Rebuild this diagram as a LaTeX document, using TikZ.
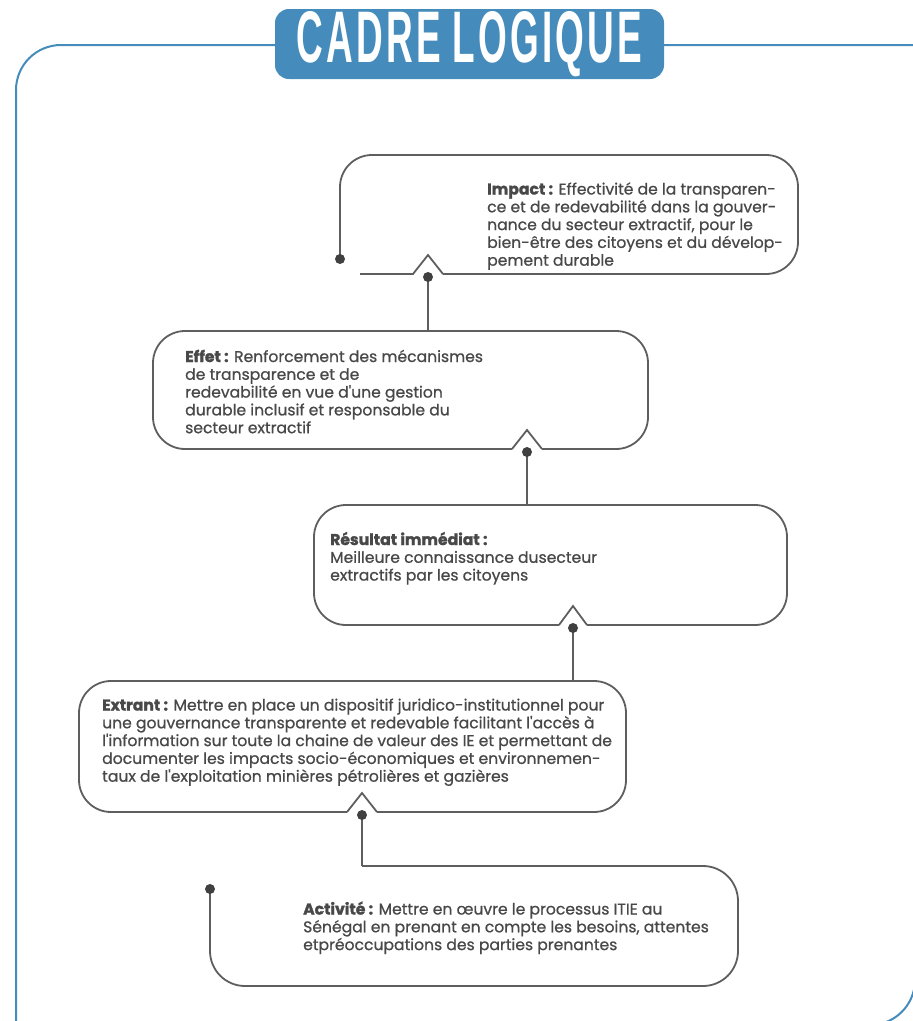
\documentclass[tikz,border=0pt]{standalone}
\usepackage{fontspec}
\usepackage{graphicx}
\newfontfamily\pop{Poppins}[UprightFeatures={FakeBold=0.8}, BoldFeatures={FakeBold=1.6}]
\newfontfamily\ttl{Liberation Sans}[LetterSpace=9]
\definecolor{frameblue}{HTML}{458CBC}
\definecolor{linegray}{HTML}{5E5E5E}
\definecolor{dotgray}{HTML}{404040}
\definecolor{textgray}{HTML}{484848}
\tikzset{
  frame/.style={draw=frameblue, line width=2pt},
  titlebox/.style={fill=frameblue, rounded corners=14pt, minimum width=389pt, minimum height=70pt, inner sep=0pt, text=white},
  box/.style={draw=linegray, line width=1.8pt, rounded corners=32pt},
  notch/.style={draw=linegray, line width=1.8pt, line join=miter},
  conn/.style={draw=linegray, line width=1.8pt},
  dot/.style={fill=dotgray},
  txt/.style={anchor=base west, align=left, inner sep=0pt, text=textgray, font=\pop\fontsize{15.6}{17.8}\selectfont}
}
\begin{document}
\begin{tikzpicture}[x=1pt,y=-1pt]
\useasboundingbox (0,0) rectangle (913,1021);
\clip (0,0) rectangle (913,1021);
% outer frame
\draw[frame, rounded corners=45pt] (930,45) -- (16,45) -- (16,1045);
\draw[frame, rounded corners=45pt] (780,1025) -- (915,1025) -- (915,900);
% title
\node[titlebox] (title) at (469.5,44) {\resizebox{346pt}{51pt}{\ttl\bfseries\spaceskip=0.3em CADRE LOGIQUE}};
% coordinates
\coordinate (impL) at (340,259);
\coordinate (impD) at (428,277);
\coordinate (effT) at (428,331);
\coordinate (effD) at (527,452);
\coordinate (resT) at (527,505);
\coordinate (resD) at (573,628);
\coordinate (extT) at (573,681);
\coordinate (extD) at (362,815);
\coordinate (actT) at (362,866);
\coordinate (actL) at (210,889);
% Impact box
\draw[box] (impL) -- (340,155) -- (798,155) -- (798,274) -- (443,274);
\draw[notch] (443,274) -- (428,255) -- (413,274) -- (360,274);
% Effet box
\draw[box] (512,449) -- (153,449) -- (153,331) -- (648,331) -- (648,449) -- (542,449);
\draw[notch] (512,449) -- (527,430) -- (542,449);
% Resultat box
\draw[box] (559,625) -- (314,625) -- (314,505) -- (787,505) -- (787,625) -- (587,625);
\draw[notch] (559,625) -- (573,606) -- (587,625);
% Extrant box
\draw[box] (347,812) -- (79,812) -- (79,681) -- (626,681) -- (626,812) -- (377,812);
\draw[notch] (347,812) -- (362,793) -- (377,812);
% Activite box
\draw[box, rounded corners=35pt] (actT) -- (738,866) -- (738,986) -- (210,986) -- (actL);
% connectors
\draw[conn] (impD) -- (effT);
\draw[conn] (effD) -- (resT);
\draw[conn] (resD) -- (extT);
\draw[conn] (extD) -- (actT);
% dots
\fill[dot] (impL) circle (5pt);
\fill[dot] (impD) circle (5pt);
\fill[dot] (effD) circle (5pt);
\fill[dot] (resD) circle (5pt);
\fill[dot] (extD) circle (5pt);
\fill[dot] (actL) circle (5pt);
% texts (anchor = baseline of last line)
\node[txt] (impact) at (487,265.7) {\textbf{Impact :} Effectivité de la transparen-\\ce et de redevabilité dans la gouver-\\nance du secteur extractif, pour le\\bien-être des citoyens et du dévelop-\\pement durable};
\node[txt] (effet) at (185,433.2) {\textbf{Effet :} Renforcement des mécanismes\\de transparence et de\\redevabilité en vue d'une gestion\\durable inclusif et responsable du\\secteur extractif};
\node[txt] (resultat) at (330,580.6) {\textbf{Résultat immédiat :}\\Meilleure connaissance dusecteur\\extractifs par les citoyens};
\node[txt] (extrant) at (102,781.7) {\textbf{Extrant :} Mettre en place un dispositif juridico-institutionnel pour\\une gouvernance transparente et redevable facilitant l'accès à\\l'information sur toute la chaine de valeur des IE et permettant de\\documenter les impacts socio-économiques et environnemen-\\taux de l'exploitation minières pétrolières et gazières};
\node[txt] (activite) at (303,950.1) {\textbf{Activité :} Mettre en œuvre le processus ITIE au\\Sénégal en prenant en compte les besoins, attentes\\etpréoccupations des parties prenantes};
\end{tikzpicture}
\end{document}
